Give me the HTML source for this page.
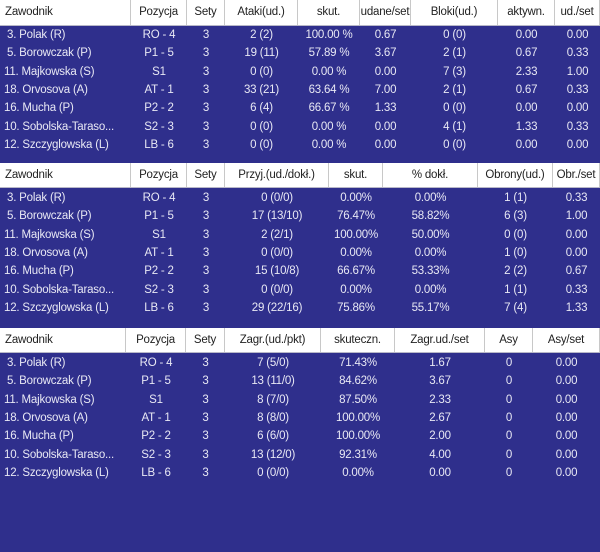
<!DOCTYPE html>
<html><head><meta charset="utf-8"><style>
html,body{margin:0;padding:0;}
body{width:600px;height:552px;background:#2f2f8c;position:relative;overflow:hidden;font-family:"Liberation Sans",Arial,sans-serif;font-size:11.5px;letter-spacing:-0.2px;}
.hdr{position:absolute;left:0;width:600px;background:#fff;color:#222;border-bottom:1px solid #b8b8c8;}
.hdr div{position:absolute;top:0;bottom:0;text-align:center;border-right:1px solid #c8c8c8;box-sizing:border-box;white-space:nowrap;overflow:hidden;}
.hdr div:first-child{text-align:left;padding-left:5px;}
.row{position:absolute;left:0;width:600px;height:18.3px;color:#e8e8f4;}
.row div{position:absolute;top:0;height:18.3px;line-height:18.3px;text-align:center;white-space:nowrap;overflow:hidden;}
.row div:first-child{text-align:left;padding-left:4px;}
</style></head><body>
<div id="root"></div>
<script>
function build(top,hh,rtop,cols,heads,rows){
  var x=[0];for(var i=0;i<cols.length;i++)x.push(x[i]+cols[i]);
  var h='<div class="hdr" style="top:'+top+'px;height:'+hh+'px;line-height:'+hh+'px">';
  heads.forEach(function(t,i){h+='<div style="left:'+x[i]+'px;width:'+cols[i]+'px">'+t+'</div>';});
  h+='</div>';
  rows.forEach(function(r,j){
    h+='<div class="row" style="top:'+(rtop+j*18.3)+'px">';
    r.forEach(function(t,i){h+='<div style="left:'+x[i]+'px;width:'+cols[i]+'px">'+t+'</div>';});
    h+='</div>';
  });
  return h;
}
var names=[" 3. Polak (R)"," 5. Borowczak (P)","11. Majkowska (S)","18. Orvosova (A)","16. Mucha (P)","10. Sobolska-Taraso...","12. Szczyglowska (L)"];
var pos=["RO - 4","P1 - 5","S1","AT - 1","P2 - 2","S2 - 3","LB - 6"];
function mk(extra){return names.map(function(n,i){return [n.replace(/^ /,'&nbsp;'),pos[i],"3"].concat(extra[i]);});}
var h='';
h+=build(0,25,26,[131,56,38,73,62,51,87,57,45],["Zawodnik","Pozycja","Sety","Ataki(ud.)","skut.","udane/set","Bloki(ud.)","aktywn.","ud./set"],mk([
["2 (2)","100.00 %","0.67","0 (0)","0.00","0.00"],
["19 (11)","57.89 %","3.67","2 (1)","0.67","0.33"],
["0 (0)","0.00 %","0.00","7 (3)","2.33","1.00"],
["33 (21)","63.64 %","7.00","2 (1)","0.67","0.33"],
["6 (4)","66.67 %","1.33","0 (0)","0.00","0.00"],
["0 (0)","0.00 %","0.00","4 (1)","1.33","0.33"],
["0 (0)","0.00 %","0.00","0 (0)","0.00","0.00"]]));
h+=build(163,24,189,[131,56,38,104,54,95,75,47],["Zawodnik","Pozycja","Sety","Przyj.(ud./dokł.)","skut.","% dokł.","Obrony(ud.)","Obr./set"],mk([
["0 (0/0)","0.00%","0.00%","1 (1)","0.33"],
["17 (13/10)","76.47%","58.82%","6 (3)","1.00"],
["2 (2/1)","100.00%","50.00%","0 (0)","0.00"],
["0 (0/0)","0.00%","0.00%","1 (0)","0.00"],
["15 (10/8)","66.67%","53.33%","2 (2)","0.67"],
["0 (0/0)","0.00%","0.00%","1 (1)","0.33"],
["29 (22/16)","75.86%","55.17%","7 (4)","1.33"]]));
h+=build(328,24,354,[126,60,39,96,74,90,48,67],["Zawodnik","Pozycja","Sety","Zagr.(ud./pkt)","skuteczn.","Zagr.ud./set","Asy","Asy/set"],mk([
["7 (5/0)","71.43%","1.67","0","0.00"],
["13 (11/0)","84.62%","3.67","0","0.00"],
["8 (7/0)","87.50%","2.33","0","0.00"],
["8 (8/0)","100.00%","2.67","0","0.00"],
["6 (6/0)","100.00%","2.00","0","0.00"],
["13 (12/0)","92.31%","4.00","0","0.00"],
["0 (0/0)","0.00%","0.00","0","0.00"]]));
document.getElementById('root').innerHTML=h;
</script>
</body></html>
